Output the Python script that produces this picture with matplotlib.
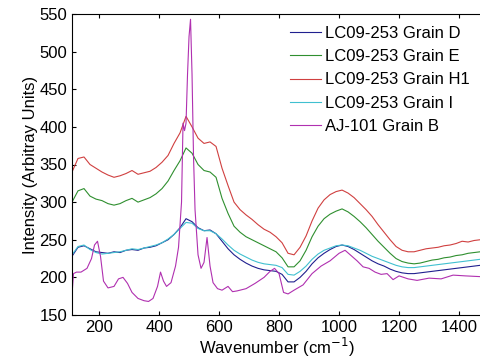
import matplotlib
matplotlib.use("Agg")
import matplotlib.pyplot as plt

plt.rcParams['font.family'] = ['Liberation Sans', 'DejaVu Sans']

# shared wavenumber grid for the LC09-253 grains
x = [110, 130, 150, 170, 190, 210, 230, 250, 270, 290, 310, 330, 350, 370, 390,
     410, 430, 450, 470, 490, 510, 530, 550, 570, 590, 610, 630, 650, 670, 690,
     710, 730, 750, 770, 790, 810, 830, 850, 870, 890, 910, 930, 950, 970, 990,
     1010, 1030, 1050, 1070, 1090, 1110, 1130, 1150, 1170, 1190, 1210, 1230, 1250,
     1270, 1290, 1310, 1330, 1350, 1370, 1390, 1410, 1430, 1450, 1470]

grain_d = [228, 240, 242, 238, 234, 233, 232, 234, 233, 236, 237, 236, 239, 240, 242,
           246, 250, 257, 266, 278, 274, 266, 262, 263, 258, 248, 238, 230, 224, 219,
           215, 212, 210, 209, 208, 204, 194, 194, 200, 208, 218, 226, 232, 237, 241,
           243, 241, 237, 232, 227, 222, 218, 215, 211, 208, 206, 205, 205,
           206, 207, 208, 209, 210, 211, 212, 213, 214, 215, 216]

grain_e = [300, 315, 318, 308, 304, 302, 298, 296, 298, 302, 305, 300, 303, 306, 311,
           318, 328, 342, 355, 372, 365, 350, 342, 340, 333, 305, 285, 268, 260, 254,
           250, 246, 242, 238, 234, 226, 214, 214, 222, 236, 254, 268, 278, 284, 288,
           291, 287, 281, 274, 266, 257, 248, 240, 232, 225, 221, 219, 218,
           219, 221, 223, 224, 226, 227, 229, 230, 232, 233, 234]

grain_h1 = [340, 358, 360, 350, 345, 340, 336, 333, 335, 338, 342, 337, 339, 341, 346,
            353, 362, 378, 392, 414, 400, 385, 378, 380, 374, 345, 322, 300, 290, 283,
            277, 270, 264, 260, 254, 246, 232, 230, 240, 255, 275, 292, 303, 310, 314,
            316, 312, 306, 298, 290, 281, 270, 260, 250, 241, 236, 234, 234,
            236, 238, 239, 240, 242, 243, 245, 248, 247, 249, 250]

grain_i = [230, 241, 243, 237, 233, 231, 232, 233, 234, 236, 238, 237, 239, 241, 243,
           246, 251, 257, 265, 273, 272, 265, 262, 262, 258, 251, 243, 236, 231, 227,
           223, 220, 218, 217, 216, 213, 204, 203, 208, 215, 224, 231, 236, 239, 242,
           243, 242, 239, 236, 232, 228, 225, 222, 219, 216, 214, 213, 213,
           214, 215, 216, 217, 218, 219, 220, 221, 222, 223, 224]

# AJ-101 has sharp peaks, so its own grid
xb = [110, 115, 125, 140, 160, 175, 185, 195, 205, 215, 230, 250, 265, 280, 295,
      310, 330, 350, 365, 380, 395, 405, 415, 425, 440, 455, 465, 475, 480, 485,
      490, 495, 500, 505, 510, 515, 520, 530, 540, 550, 560, 570, 580, 595, 610,
      630, 645, 660, 690, 720, 750, 770, 785, 800, 815, 830, 850, 880, 910, 940,
      970, 1000, 1020, 1040, 1060, 1080, 1100, 1120, 1140, 1160, 1180, 1200, 1230,
      1260, 1300, 1340, 1380, 1420, 1470]
grain_b = [177, 205, 207, 207, 212, 225, 243, 248, 228, 195, 186, 188, 198, 200, 192,
           180, 172, 169, 168, 172, 188, 207, 195, 188, 193, 215, 240, 300, 405, 395,
           405, 470, 520, 543, 470, 360, 290, 230, 212, 220, 253, 215, 193, 185, 183,
           188, 181, 182, 185, 192, 200, 208, 212, 205, 180, 178, 183, 190, 205, 215,
           222, 232, 236, 229, 222, 214, 212, 207, 204, 205, 197, 202, 198,
           196, 199, 198, 203, 202, 201]

fig = plt.figure(figsize=(4.81, 3.63), dpi=100)
ax = fig.add_axes([72/481, 48/363, 409/481, 301/363])

lw = 0.8
ax.plot(x, grain_d, color='#20208f', lw=lw, label='LC09-253 Grain D')
ax.plot(x, grain_e, color='#2f8f2f', lw=lw, label='LC09-253 Grain E')
ax.plot(x, grain_h1, color='#d04040', lw=lw, label='LC09-253 Grain H1')
ax.plot(x, grain_i, color='#40c0d0', lw=lw, label='LC09-253 Grain I')
ax.plot(xb, grain_b, color='#b030b0', lw=lw, label='AJ-101 Grain B')

ax.set_xlim(110, 1473)
ax.set_ylim(150, 550)
ax.set_xticks([200, 400, 600, 800, 1000, 1200, 1400])
ax.set_yticks(range(150, 551, 50))
ax.tick_params(direction='in', top=True, right=False, labelsize=12, length=3)
ax.set_xlabel('Wavenumber (cm$^{-1}$)', fontsize=12, labelpad=1)
ax.set_ylabel('Intensity (Arbitray Units)', fontsize=12, labelpad=1)

ax.legend(loc='upper right', bbox_to_anchor=(1.0, 1.0), frameon=False,
          fontsize=12, handlelength=1.9, handletextpad=0.2, labelspacing=0.5,
          borderaxespad=0.3)

fig.savefig('out.png', dpi=100)
